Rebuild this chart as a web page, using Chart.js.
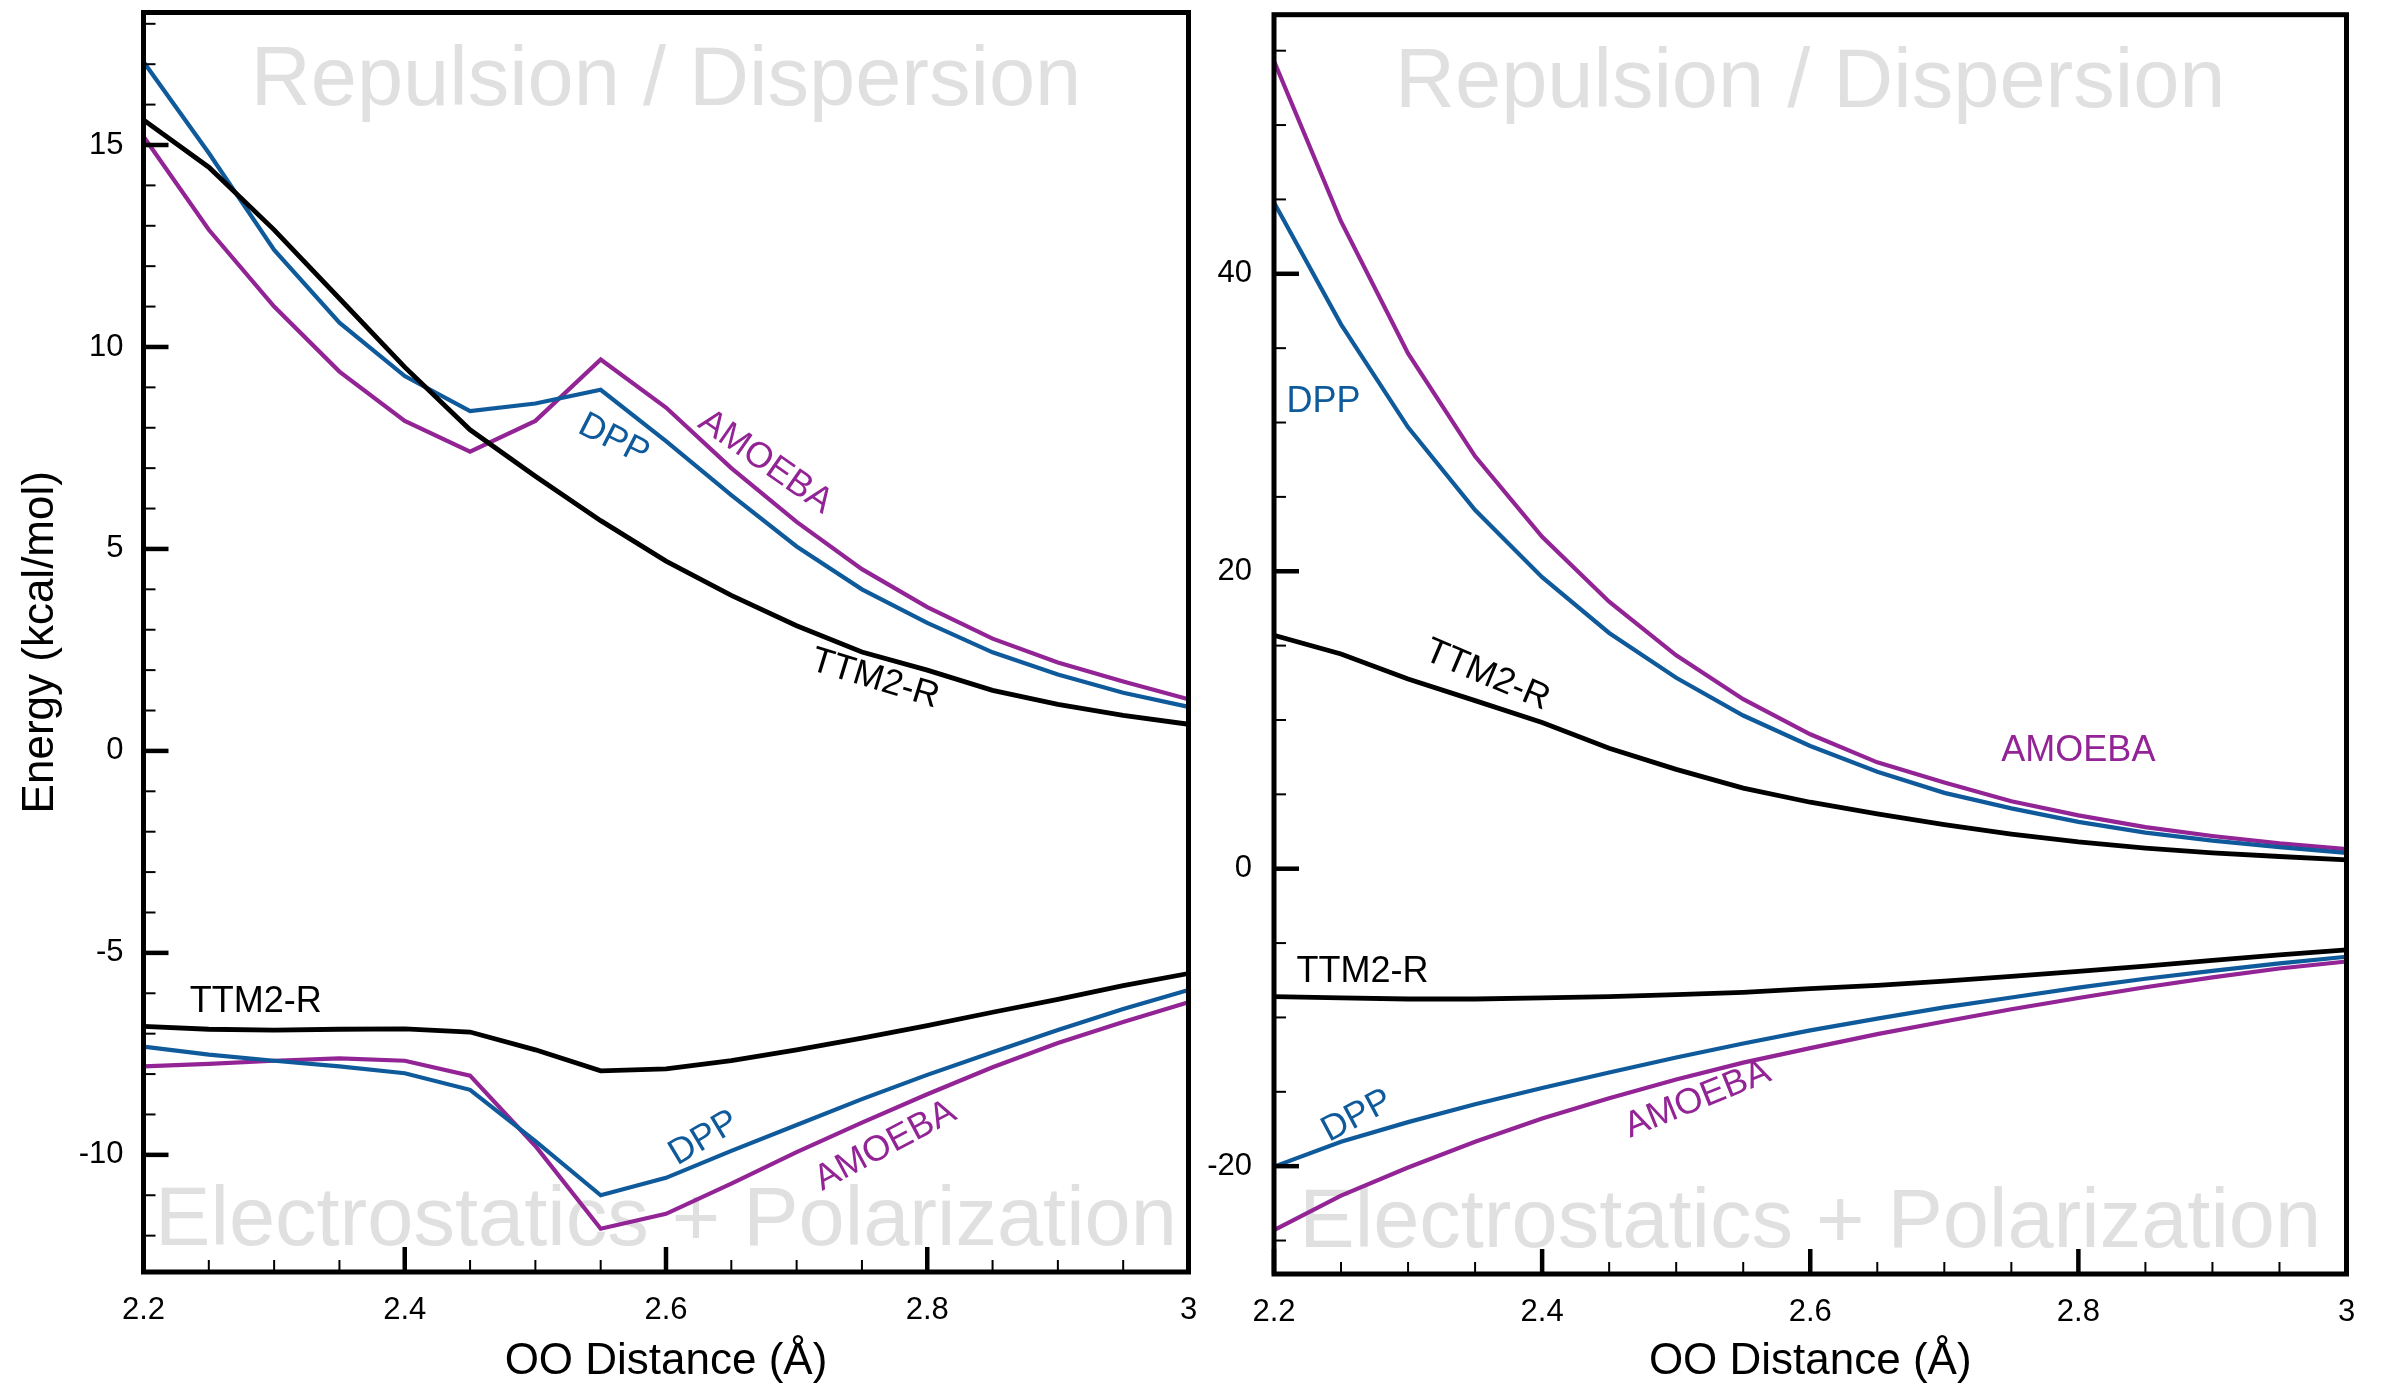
<!DOCTYPE html>
<html>
<head>
<meta charset="utf-8">
<script src="https://cdn.jsdelivr.net/npm/chart.js@4.4.1/dist/chart.umd.min.js"></script>
<style>
  html, body { margin: 0; padding: 0; background: #fff; }
  #wrap { position: relative; width: 2383px; height: 1384px; }
  canvas { position: absolute; top: 0; }
  #left { left: 0; }
  #right { left: 1200px; }
</style>
</head>
<body>
<div id="wrap">
  <canvas id="left" width="1200" height="1384"></canvas>
  <canvas id="right" width="1183" height="1384"></canvas>
</div>
<script>
// OO distance grid (Å)
const distance = [2.2, 2.25, 2.3, 2.35, 2.4, 2.45, 2.5, 2.55, 2.6, 2.65, 2.7, 2.75, 2.8, 2.85, 2.9, 2.95, 3.0];

// left panel, repulsion / dispersion
const leftRepTTM    = [15.62, 14.45, 12.9, 11.2, 9.5, 7.95, 6.8, 5.7, 4.7, 3.85, 3.1, 2.45, 2.0, 1.5, 1.15, 0.88, 0.66];
const leftRepDPP    = [17.06, 14.8, 12.4, 10.6, 9.28, 8.41, 8.6, 8.94, 7.67, 6.33, 5.06, 4.0, 3.17, 2.44, 1.89, 1.44, 1.09];
const leftRepAMOEBA = [15.21, 12.9, 11.0, 9.39, 8.17, 7.41, 8.17, 9.69, 8.5, 7.0, 5.67, 4.5, 3.56, 2.78, 2.19, 1.72, 1.28];
// left panel, electrostatics + polarization
const leftElecTTM    = [-6.82, -6.89, -6.91, -6.89, -6.88, -6.96, -7.40, -7.92, -7.87, -7.67, -7.40, -7.11, -6.80, -6.47, -6.15, -5.81, -5.51];
const leftElecDPP    = [-7.32, -7.52, -7.67, -7.81, -7.98, -8.39, -9.66, -11.0, -10.57, -9.9, -9.26, -8.62, -8.02, -7.46, -6.91, -6.39, -5.92];
const leftElecAMOEBA = [-7.81, -7.75, -7.67, -7.61, -7.67, -8.04, -9.78, -11.83, -11.46, -10.71, -9.93, -9.2, -8.5, -7.83, -7.23, -6.71, -6.22];

// right panel, repulsion / dispersion
const rightRepTTM    = [15.7, 14.44, 12.75, 11.3, 9.83, 8.1, 6.68, 5.42, 4.47, 3.69, 2.96, 2.33, 1.8, 1.39, 1.07, 0.82, 0.6];
const rightRepDPP    = [44.8, 36.6, 29.68, 24.12, 19.6, 15.85, 12.84, 10.3, 8.25, 6.52, 5.1, 4.06, 3.15, 2.43, 1.89, 1.45, 1.07];
const rightRepAMOEBA = [54.3, 43.52, 34.65, 27.73, 22.32, 17.95, 14.35, 11.4, 9.04, 7.15, 5.8, 4.54, 3.59, 2.8, 2.2, 1.7, 1.32];
// right panel, electrostatics + polarization
const rightElecTTM    = [-8.6, -8.69, -8.76, -8.76, -8.69, -8.6, -8.47, -8.31, -8.06, -7.84, -7.56, -7.24, -6.9, -6.55, -6.17, -5.8, -5.45];
const rightElecDPP    = [-20.03, -18.36, -17.04, -15.84, -14.74, -13.7, -12.69, -11.75, -10.87, -10.08, -9.32, -8.66, -8.0, -7.4, -6.87, -6.36, -5.92];
const rightElecAMOEBA = [-24.3, -21.98, -20.09, -18.36, -16.79, -15.43, -14.17, -13.04, -12.06, -11.12, -10.27, -9.45, -8.69, -7.97, -7.31, -6.71, -6.24];

// tick labels
const xMajorTicks = [2.2, 2.4, 2.6, 2.8, 3];
const leftYMajorTicks = [-10, -5, 0, 5, 10, 15];
const rightYMajorTicks = [-20, 0, 20, 40];

const BLACK = '#000000';
const BLUE = '#0f5a9b';
const PURPLE = '#922495';
const FONT = "'Liberation Sans', Arial, Helvetica, sans-serif";

Chart.defaults.font.family = FONT;
Chart.defaults.color = '#000';

function minorTicks(min, max, step) {
    const out = [];
    for (let v = Math.ceil(min / step) * step; v <= max + 1e-9; v += step) {
        out.push(Math.round(v * 1000) / 1000);
    }
    return out;
}

// faint panel captions, behind the curves
const watermarks = {
    id: 'watermarks',
    beforeDatasetsDraw(chart) {
        const {ctx, chartArea: a} = chart;
        const cx = (a.left + a.right) / 2;
        ctx.save();
        ctx.fillStyle = '#e0e0e0';
        ctx.font = '83px ' + FONT;
        ctx.textAlign = 'center';
        ctx.textBaseline = 'alphabetic';
        ctx.fillText('Repulsion / Dispersion', cx, a.top + 92);
        ctx.fillText('Electrostatics + Polarization', cx, a.bottom - 27);
        ctx.restore();
    }
};

// box around the plot and inward tick marks
const frameAndTicks = {
    id: 'frameAndTicks',
    afterDraw(chart, args, opts) {
        const {ctx, chartArea: a, scales: {x, y}} = chart;
        ctx.save();
        ctx.strokeStyle = '#000';
        const seg = (x1, y1, x2, y2, w) => {
            ctx.lineWidth = w;
            ctx.beginPath();
            ctx.moveTo(x1, y1);
            ctx.lineTo(x2, y2);
            ctx.stroke();
        };
        opts.xMinor.forEach(v => {
            const px = x.getPixelForValue(v);
            seg(px, a.bottom, px, a.bottom - 12, 2);
        });
        xMajorTicks.forEach(v => {
            const px = x.getPixelForValue(v);
            seg(px, a.bottom, px, a.bottom - 25, 4.5);
        });
        opts.yMinor.forEach(v => {
            const py = y.getPixelForValue(v);
            seg(a.left, py, a.left + 12, py, 2);
        });
        opts.yMajor.forEach(v => {
            const py = y.getPixelForValue(v);
            seg(a.left, py, a.left + 25, py, 4.5);
        });
        ctx.lineWidth = 5;
        ctx.strokeRect(a.left, a.top, a.right - a.left, a.bottom - a.top);
        ctx.restore();
    }
};

// curve names written next to the curves
const lineLabels = {
    id: 'lineLabels',
    afterDatasetsDraw(chart, args, opts) {
        const {ctx, scales: {x, y}} = chart;
        ctx.save();
        ctx.font = '36px ' + FONT;
        ctx.textAlign = 'center';
        ctx.textBaseline = 'middle';
        opts.items.forEach(item => {
            ctx.save();
            ctx.translate(x.getPixelForValue(item.x), y.getPixelForValue(item.y));
            ctx.rotate(item.angle * Math.PI / 180);
            ctx.fillStyle = item.color;
            ctx.fillText(item.text, 0, 0);
            ctx.restore();
        });
        ctx.restore();
    }
};

function makeChart(canvasId, cfg) {
    const series = [
        [cfg.rep[0], BLACK], [cfg.rep[1], BLUE], [cfg.rep[2], PURPLE],
        [cfg.elec[0], BLACK], [cfg.elec[1], BLUE], [cfg.elec[2], PURPLE]
    ];
    return new Chart(document.getElementById(canvasId), {
        type: 'line',
        data: {
            datasets: series.map(([vals, color]) => ({
                data: distance.map((d, i) => ({x: d, y: vals[i]})),
                borderColor: color,
                borderWidth: color === BLACK ? 4.8 : 4.2,
                pointRadius: 0,
                tension: 0,
                fill: false
            }))
        },
        options: {
            responsive: false,
            animation: false,
            events: [],
            layout: {padding: cfg.padding},
            plugins: {
                legend: {display: false},
                tooltip: {enabled: false},
                frameAndTicks: {
                    xMinor: minorTicks(2.2, 3.0, 0.05),
                    yMinor: minorTicks(cfg.yMin, cfg.yMax, cfg.yMinorStep),
                    yMajor: cfg.yMajor
                },
                lineLabels: {items: cfg.labels}
            },
            scales: {
                x: {
                    type: 'linear',
                    min: 2.2,
                    max: 3.0,
                    grid: {display: false, drawTicks: false},
                    border: {display: false},
                    afterBuildTicks: s => { s.ticks = xMajorTicks.map(v => ({value: v})); },
                    afterFit: s => { s.height = cfg.xAxisHeight; s.paddingLeft = 0; s.paddingRight = 0; },
                    ticks: {
                        padding: 20,
                        maxRotation: 0,
                        autoSkip: false,
                        font: {size: 31},
                        callback: v => String(v)
                    },
                    title: {
                        display: true,
                        text: 'OO Distance (Å)',
                        font: {size: 44, lineHeight: 1.0},
                        padding: 0
                    }
                },
                y: {
                    type: 'linear',
                    min: cfg.yMin,
                    max: cfg.yMax,
                    grid: {display: false, drawTicks: false},
                    border: {display: false},
                    afterBuildTicks: s => { s.ticks = cfg.yMajor.map(v => ({value: v})); },
                    afterFit: s => { s.width = cfg.yAxisWidth; s.paddingTop = 0; s.paddingBottom = 0; },
                    ticks: {
                        padding: cfg.yTickPad,
                        autoSkip: false,
                        font: {size: 31},
                        callback: v => String(v)
                    },
                    title: {
                        display: cfg.yTitle,
                        text: 'Energy (kcal/mol)',
                        font: {size: 44, lineHeight: 1.2},
                        padding: {top: 14.6, bottom: 0}
                    }
                }
            }
        },
        plugins: [watermarks, frameAndTicks, lineLabels]
    });
}

makeChart('left', {
    rep: [leftRepTTM, leftRepDPP, leftRepAMOEBA],
    elec: [leftElecTTM, leftElecDPP, leftElecAMOEBA],
    yMin: -12.9,
    yMax: 18.28,
    yMajor: leftYMajorTicks,
    yMinorStep: 1,
    yAxisWidth: 143.5,
    xAxisHeight: 112,
    yTickPad: 20,
    yTitle: true,
    padding: {top: 12.5, right: 11.5, bottom: 0, left: 0},
    labels: [
        {text: 'AMOEBA', x: 2.676, y: 7.15, angle: 35, color: PURPLE},
        {text: 'DPP', x: 2.560, y: 7.70, angle: 27, color: BLUE},
        {text: 'TTM2-R', x: 2.760, y: 1.78, angle: 17, color: BLACK},
        {text: 'TTM2-R', x: 2.286, y: -6.22, angle: 0, color: BLACK},
        {text: 'DPP', x: 2.629, y: -9.59, angle: -31, color: BLUE},
        {text: 'AMOEBA', x: 2.768, y: -9.78, angle: -28, color: PURPLE}
    ]
});

makeChart('right', {
    rep: [rightRepTTM, rightRepDPP, rightRepAMOEBA],
    elec: [rightElecTTM, rightElecDPP, rightElecAMOEBA],
    yMin: -27.25,
    yMax: 57.42,
    yMajor: rightYMajorTicks,
    yMinorStep: 5,
    yAxisWidth: 74,
    xAxisHeight: 110,
    yTickPad: 22,
    yTitle: false,
    padding: {top: 14.7, right: 36.5, bottom: 0, left: 0},
    labels: [
        {text: 'DPP', x: 2.237, y: 31.4, angle: 0, color: BLUE},
        {text: 'TTM2-R', x: 2.359, y: 13.0, angle: 23, color: BLACK},
        {text: 'AMOEBA', x: 2.800, y: 7.93, angle: 0, color: PURPLE},
        {text: 'TTM2-R', x: 2.266, y: -6.96, angle: 0, color: BLACK},
        {text: 'DPP', x: 2.262, y: -16.63, angle: -28, color: BLUE},
        {text: 'AMOEBA', x: 2.516, y: -15.53, angle: -22, color: PURPLE}
    ]
});
</script>
</body>
</html>
